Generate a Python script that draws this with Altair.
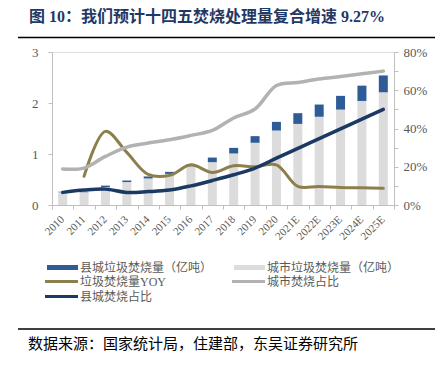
import altair as alt
import pandas as pd

# ---------------- data ----------------
years = ["2010", "2011", "2012", "2013", "2014", "2015", "2016", "2017", "2018",
         "2019", "2020", "2021E", "2022E", "2023E", "2024E", "2025E"]
city_burn = [0.25, 0.25, 0.35, 0.45, 0.52, 0.61, 0.76, 0.84, 1.01, 1.22, 1.46,
             1.59, 1.73, 1.87, 2.04, 2.21]
county_burn = [0.01, 0.01, 0.03, 0.03, 0.04, 0.04, 0.04, 0.09, 0.11, 0.13, 0.17,
               0.21, 0.24, 0.27, 0.30, 0.33]
yoy = [None, 0.15, 0.385, 0.275, 0.16, 0.155, 0.21, 0.17, 0.205, 0.20, 0.21,
       0.097, 0.097, 0.092, 0.090, 0.087]
city_share = [0.188, 0.193, 0.254, 0.303, 0.324, 0.341, 0.364, 0.39, 0.455, 0.502,
              0.625, 0.641, 0.659, 0.672, 0.686, 0.70]
county_share = [0.066, 0.078, 0.083, 0.066, 0.07, 0.078, 0.10, 0.128, 0.158, 0.193,
                0.245, 0.296, 0.347, 0.398, 0.449, 0.50]

s_county = "县城垃圾焚烧量（亿吨）"
s_city = "城市垃圾焚烧量（亿吨）"
s_yoy = "垃圾焚烧量YOY"
s_cshare = "城市焚烧占比"
s_kshare = "县城焚烧占比"

title_text = "图 10：我们预计十四五焚烧处理量复合增速 9.27%"
source_text = "数据来源：国家统计局，住建部，东吴证券研究所"

# ---------------- styles ----------------
BLUE = "#2F5C96"
LGREY = "#DCDCDC"
OLIVE = "#8C7F4B"
GREYL = "#B2B2B2"
NAVY = "#1B3A63"
AXC = "#BFBFBF"
LBL = "#595959"
SERIF = '"Liberation Serif", "Noto Sans CJK SC"'

bars_df = pd.DataFrame(
    [{"year": y, "series": s_city, "v": c, "ord": 0} for y, c in zip(years, city_burn)]
    + [{"year": y, "series": s_county, "v": k, "ord": 1} for y, k in zip(years, county_burn)]
)
lines_df = pd.DataFrame({"year": years, "yoy": yoy, "cshare": city_share, "kshare": county_share})
years_df = pd.DataFrame({"year": years})

W, H = 342, 153

xscale = alt.Scale(paddingInner=0, paddingOuter=0)

bars = alt.Chart(bars_df).mark_bar(size=9).encode(
    x=alt.X("year:N", sort=years, scale=xscale,
            axis=alt.Axis(title=None, labels=False,
                          tickBand="extent", tickSize=4, tickColor=AXC, domainColor=AXC,
                          grid=False)),
    y=alt.Y("v:Q", stack="zero",
            scale=alt.Scale(domain=[0, 3], nice=False),
            axis=alt.Axis(title=None, values=[0, 1, 2, 3], format="d", tickSize=4,
                          tickColor=AXC, domainColor=AXC, labelPadding=10,
                          labelFont=SERIF, labelFontSize=13, labelColor=LBL, grid=False)),
    color=alt.Color("series:N", scale=alt.Scale(domain=[s_county, s_city], range=[BLUE, LGREY]),
                    legend=None),
    order=alt.Order("ord:Q", sort="ascending"),
)

xlabels = alt.Chart(years_df).mark_text(
    angle=315, align="right", baseline="middle", font=SERIF, fontSize=11, color=LBL,
    dx=0, dy=0,
).encode(
    x=alt.X("year:N", sort=years, scale=xscale),
    y=alt.value(H + 13),
    text="year:N",
)

raxis = alt.Axis(title=None, orient="right",
                 values=[0, 0.1, 0.2, 0.3, 0.4, 0.5, 0.6, 0.7, 0.8],
                 labelExpr="round(datum.value*10) % 2 == 0 ? format(datum.value, '.0%') : ''",
                 tickSize=4, tickColor=AXC, domainColor=AXC, labelPadding=5,
                 labelFont=SERIF, labelFontSize=13, labelColor=LBL, grid=False)
rscale = alt.Scale(domain=[0, 0.8], nice=False)


def line_layer(col, color, width):
    base = alt.Chart(lines_df).transform_filter(f"isValid(datum.{col})").transform_calculate(
        val=f"datum.{col}")
    return base.mark_line(interpolate="catmull-rom", color=color, strokeWidth=width,
                          strokeCap="round").encode(
        x=alt.X("year:N", sort=years, scale=xscale),
        y=alt.Y("val:Q", scale=rscale, axis=raxis),
    )


lines = alt.layer(
    line_layer("yoy", OLIVE, 3),
    line_layer("cshare", GREYL, 3.5),
    line_layer("kshare", NAVY, 3.5),
)

one = alt.Data(values=[{"a": 1}])


def txt(s, x, y, size, color, weight="normal", font=SERIF):
    return alt.Chart(one).mark_text(text=s, align="left", baseline="middle", fontSize=size,
                                    color=color, fontWeight=weight, font=font).encode(
        x=alt.value(x), y=alt.value(y))


def hrule(x1, x2, y, color, width):
    return alt.Chart(one).mark_rule(color=color, strokeWidth=width).encode(
        x=alt.value(x1), x2=alt.value(x2), y=alt.value(y))


def box(x1, x2, y1, y2, color):
    return alt.Chart(one).mark_rect(color=color).encode(
        x=alt.value(x1), x2=alt.value(x2), y=alt.value(y1), y2=alt.value(y2))


deco = alt.layer(
    txt(title_text, -23, -35, 16, "#1F3864", "bold"),
    hrule(-34, 385, -14.5, "#000000", 1.5),
    box(-5, 26, 213, 218, BLUE),
    txt(s_county, 28, 215.5, 12, LBL),
    box(182, 213, 213, 218, LGREY),
    txt(s_city, 215, 215.5, 12, LBL),
    hrule(-7, 26, 229.5, OLIVE, 3),
    txt(s_yoy, 28, 229.5, 12, LBL),
    hrule(180, 213, 229.5, GREYL, 3),
    txt(s_cshare, 215, 229.5, 12, LBL),
    hrule(-7, 26, 244.5, NAVY, 3),
    txt(s_kshare, 28, 244.5, 12, LBL),
    hrule(-34, 385, 277, "#000000", 1.5),
    txt(source_text, -24, 292, 15, "#000000"),
)

chart = alt.layer(bars, xlabels, lines, deco).resolve_scale(y="independent").properties(
    width=W, height=H,
    autosize=alt.AutoSizeParams(type="none"),
    padding={"left": 44, "top": 44, "right": 41, "bottom": 156},
).configure_view(stroke=None).configure(background="white")

chart.save("out.html", embed_options={"renderer": "svg", "actions": False})
